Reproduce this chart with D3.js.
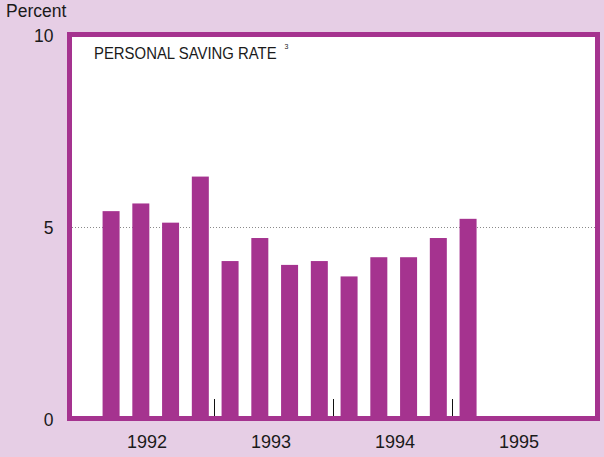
<!DOCTYPE html>
<head>
  <meta charset='utf-8'>
  <title>Personal saving rate</title>
  <style>
    body {
      margin: 0;
      background: #e6cee5;
    }
    svg text {
      font-family: "Liberation Sans", Arial, Helvetica, sans-serif;
      fill: #1a1a1a;
    }
  </style>
</head>

<body>
  <div id="chart"></div>

  <script src="https://cdn.jsdelivr.net/npm/d3@7"></script>
  <script type="text/javascript">
    // quarterly personal saving rate, 1992 Q1 - 1995 Q1
    var quarters = ["1992Q1", "1992Q2", "1992Q3", "1992Q4",
                    "1993Q1", "1993Q2", "1993Q3", "1993Q4",
                    "1994Q1", "1994Q2", "1994Q3", "1994Q4",
                    "1995Q1"];
    var savingRate = [5.4, 5.6, 5.1, 6.3, 4.1, 4.7, 4.0, 4.1, 3.7, 4.2, 4.2, 4.7, 5.2];
    var years = [1992, 1993, 1994, 1995];
    var yTicks = [0, 5, 10];

    var width = 604,
        height = 457;

    var purple = "#a5338f";

    var svg = d3.select("#chart").append("svg")
        .attr("width", width)
        .attr("height", height);

    var y = d3.scaleLinear().domain([0, 10]).range([418.5, 34.5]);

    // time in fractional years
    var x = d3.scaleLinear().domain([1992, 1996]).range([96.2, 572.2]);
    var xLabel = d3.scaleLinear().domain([1992, 1995]).range([147, 519]);

    function qTime(q) {
      var yr = +q.slice(0, 4), n = +q.slice(5);
      return yr + (n - 0.5) / 4;
    }

    // plot panel
    svg.append("rect")
        .attr("x", 69.5)
        .attr("y", 34.5)
        .attr("width", 528)
        .attr("height", 384)
        .style("fill", "#fff");

    svg.append("line")
        .attr("x1", 72)
        .attr("x2", 595)
        .attr("y1", Math.round(y(5)) + 0.5)
        .attr("y2", Math.round(y(5)) + 0.5)
        .style("stroke", "#8a8a8a")
        .style("stroke-width", 1)
        .style("stroke-dasharray", "1,2");

    var barW = 17;
    svg.selectAll(".bar")
        .data(savingRate)
      .enter().append("rect")
        .attr("class", "bar")
        .attr("x", function(d, i) { return x(qTime(quarters[i])) - barW / 2; })
        .attr("y", function(d) { return y(d); })
        .attr("width", barW)
        .attr("height", function(d) { return y(0) - y(d); })
        .style("fill", purple);

    // year separators
    svg.selectAll(".sep")
        .data(years.slice(1))
      .enter().append("line")
        .attr("class", "sep")
        .attr("x1", function(d) { return Math.round(x(d)) - 0.5; })
        .attr("x2", function(d) { return Math.round(x(d)) - 0.5; })
        .attr("y1", 399)
        .attr("y2", 416)
        .style("stroke", "#111")
        .style("stroke-width", 1);

    svg.append("rect")
        .attr("x", 69.5)
        .attr("y", 34.5)
        .attr("width", 528)
        .attr("height", 384)
        .style("fill", "none")
        .style("stroke", purple)
        .style("stroke-width", 5);

    // y axis labels
    var yAxis = d3.axisLeft(y).tickValues(yTicks).tickSize(0).tickPadding(0)
        .tickFormat(d3.format("d"));
    var ya = svg.append("g")
        .attr("transform", "translate(53.5,0)")
        .call(yAxis);
    ya.select(".domain").remove();
    ya.selectAll("text")
        .attr("dy", "0.4em")
        .style("font-size", "17.5px")
        .style("font-family", '"Liberation Sans", Arial, sans-serif')
        .style("fill", "#1a1a1a");

    svg.append("text")
        .attr("x", 6)
        .attr("y", 17.3)
        .style("font-size", "17.5px")
        .text("Percent");

    // year labels
    svg.selectAll(".year")
        .data(years)
      .enter().append("text")
        .attr("class", "year")
        .attr("x", function(d) { return xLabel(d); })
        .attr("y", 448.3)
        .attr("text-anchor", "middle")
        .style("font-size", "18px")
        .text(function(d) { return d; });

    // panel title (narrow lettering) with footnote mark
    svg.append("text")
        .attr("transform", "translate(94,59) scale(1,1.14)")
        .style("font-size", "14.9px")
        .text("PERSONAL SAVING RATE");
    svg.append("text")
        .attr("x", 284.5)
        .attr("y", 49)
        .style("font-size", "7px")
        .text("3");
  </script>
</body>
